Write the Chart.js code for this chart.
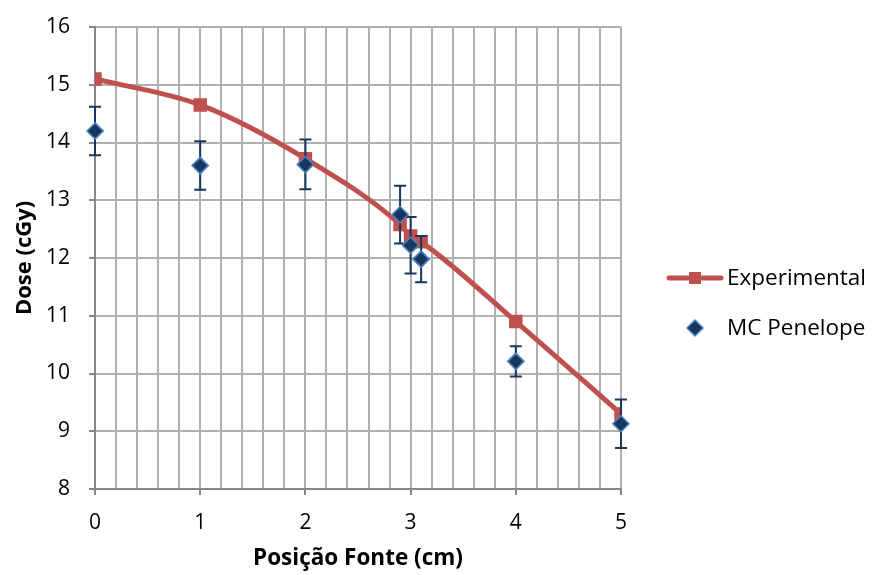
<!DOCTYPE html>
<html><head><meta charset="utf-8">
<script src="https://cdn.jsdelivr.net/npm/chart.js@4.4.1/dist/chart.umd.min.js"></script>
<style>html,body{margin:0;padding:0;background:#fff}#wrap{width:872px;height:575px}</style>
</head><body><div id="wrap"><canvas id="c" width="872" height="575"></canvas></div>
<script>
const expX = [0, 1, 2, 2.9, 3.0, 3.1, 4, 5];
const expY = [15.1, 14.65, 13.72, 12.58, 12.38, 12.28, 10.9, 9.3];
const mcX = [0, 1, 2, 2.9, 3.0, 3.1, 4, 5];
const mcY = [14.2, 13.6, 13.62, 12.75, 12.22, 11.98, 10.21, 9.13];
const mcErr = [0.42, 0.42, 0.43, 0.5, 0.49, 0.4, 0.26, 0.42];
const seriesNames = ['Experimental', 'MC Penelope'];
const axisTitles = {x: 'Posição Fonte (cm)', y: 'Dose (cGy)'};

const FONT = '"Open Sans", Lato, sans-serif';
const RED = '#c0504d', NAVY = '#17375e', BLUEB = '#4f81bd';

const errorBars = {
  id: 'errorBars',
  afterDatasetDraw(chart, args) {
    if (args.index !== 1) return;
    const ctx = chart.ctx, xs = chart.scales.x, ys = chart.scales.y;
    ctx.save();
    ctx.strokeStyle = NAVY; ctx.lineWidth = 2;
    mcX.forEach((x, i) => {
      const px = xs.getPixelForValue(x);
      const t = ys.getPixelForValue(mcY[i] + mcErr[i]);
      const b = ys.getPixelForValue(mcY[i] - mcErr[i]);
      ctx.beginPath();
      ctx.moveTo(px, t); ctx.lineTo(px, b);
      ctx.moveTo(px - 6, t); ctx.lineTo(px + 6, t);
      ctx.moveTo(px - 6, b); ctx.lineTo(px + 6, b);
      ctx.stroke();
    });
    ctx.restore();
    const meta = chart.getDatasetMeta(1);
    meta.data.forEach(p => p.draw(ctx, chart.chartArea));
  }
};

const legendPlugin = {
  id: 'customLegend',
  afterDraw(chart) {
    const ctx = chart.ctx;
    ctx.save();
    ctx.strokeStyle = RED; ctx.lineWidth = 5; ctx.lineCap = 'round';
    ctx.beginPath(); ctx.moveTo(669, 278); ctx.lineTo(721, 278); ctx.stroke();
    ctx.fillStyle = RED; ctx.fillRect(689, 272, 12, 12);
    ctx.beginPath();
    ctx.moveTo(695, 320); ctx.lineTo(703, 328); ctx.lineTo(695, 336); ctx.lineTo(687, 328); ctx.closePath();
    ctx.fillStyle = NAVY; ctx.fill(); ctx.strokeStyle = BLUEB; ctx.lineWidth = 1.5; ctx.stroke();
    ctx.fillStyle = '#000'; ctx.font = '22.5px ' + FONT; ctx.textBaseline = 'middle'; ctx.textAlign = 'left';
    ctx.fillText(seriesNames[0], 727, 279);
    ctx.fillText(seriesNames[1], 727, 329);
    ctx.restore();
  }
};

const isInt = v => Math.abs(v - Math.round(v)) < 1e-6;

new Chart(document.getElementById('c'), {
  type: 'scatter',
  data: {
    datasets: [
      {
        label: seriesNames[0], type: 'line', order: 2,
        data: expX.map((x, i) => ({x, y: expY[i]})),
        borderColor: RED, backgroundColor: RED, borderWidth: 5,
        pointStyle: 'rect', pointRadius: 6, pointHoverRadius: 6,
        cubicInterpolationMode: 'monotone', showLine: true
      },
      {
        label: seriesNames[1], order: 1,
        data: mcX.map((x, i) => ({x, y: mcY[i]})),
        backgroundColor: NAVY, borderColor: BLUEB, borderWidth: 1.5,
        pointStyle: 'rectRot', pointRadius: 8, pointHoverRadius: 8
      }
    ]
  },
  options: {
    responsive: false, animation: false, devicePixelRatio: 1,
    layout: {padding: {top: 27, right: 251, left: 8, bottom: 0}},
    plugins: {legend: {display: false}, tooltip: {enabled: false}},
    scales: {
      x: {
        type: 'linear', min: 0, max: 5,
        afterFit(s) { s.height = 86; s.paddingLeft = 0; s.paddingRight = 0; },
        ticks: {stepSize: 0.2, autoSkip: false, maxRotation: 0, padding: 15,
          color: '#000', font: {family: FONT, size: 21},
          callback: v => isInt(v) ? String(Math.round(v)) : ''},
        grid: {color: '#b0b0b0', lineWidth: 2, tickLength: 6,
          tickColor: c => (c.tick && isInt(c.tick.value)) ? '#868686' : 'rgba(0,0,0,0)'},
        border: {color: '#868686', width: 2},
        title: {display: true, text: axisTitles.x, color: '#000', font: {family: FONT, size: 22.5, weight: 'bold'}, padding: {top: 4, bottom: 3}}
      },
      y: {
        min: 8, max: 16,
        afterFit(s) { s.width = 87; s.paddingTop = 0; s.paddingBottom = 0; },
        ticks: {stepSize: 1, padding: 19, color: '#000', font: {family: FONT, size: 21}},
        grid: {color: '#b0b0b0', lineWidth: 2, tickLength: 6, tickColor: '#868686'},
        border: {color: '#868686', width: 2},
        title: {display: true, text: axisTitles.y, color: '#000', font: {family: FONT, size: 22, weight: 'bold'}, padding: {bottom: 2}}
      }
    }
  },
  plugins: [errorBars, legendPlugin]
});
</script></body></html>
